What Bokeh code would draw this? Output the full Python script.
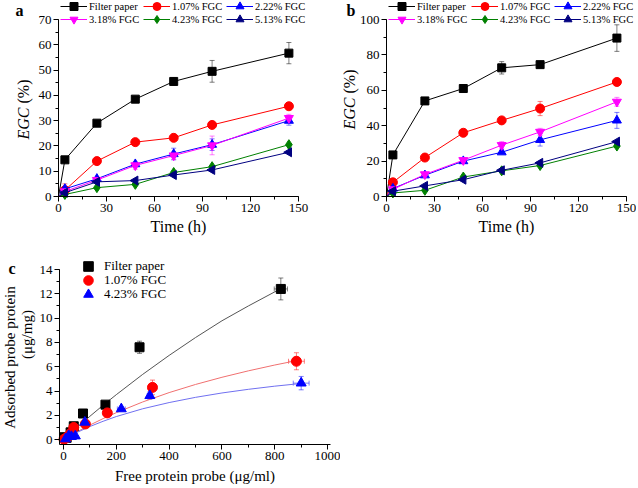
import numpy as np
from bokeh.plotting import figure
from bokeh.models import (ColumnDataSource, Whisker, TeeHead, Legend, LegendItem,
                          Label, SingleIntervalTicker, Range1d, CDSView, IndexFilter)
from bokeh.layouts import column, row
from bokeh.embed import file_html
from bokeh.resources import INLINE

FONT = "Liberation Serif"

# ---------------- data: panels a and b ----------------
time_h = [0, 4, 24, 48, 72, 96, 144]
names6 = ["Filter paper", "1.07% FGC", "2.22% FGC", "3.18% FGC", "4.23% FGC", "5.13% FGC"]

a_filter = [0.0, 14.5, 29.0, 38.5, 45.5, 49.5, 56.7]
a_107 = [0.0, 2.5, 14.0, 21.5, 23.2, 28.3, 35.7]
a_222 = [0.0, 3.0, 7.0, 12.8, 16.8, 20.5, 30.0]
a_318 = [0.0, 2.0, 6.5, 12.3, 16.2, 20.2, 31.0]
a_423 = [0.0, 0.8, 3.5, 4.8, 9.5, 11.8, 20.5]
a_513 = [0.0, 1.5, 5.8, 6.3, 8.5, 10.5, 17.5]

a_filter_err = [0, 0, 0, 0, 1.5, 4.3, 4.2]
a_107_err = [0, 2.5, 0, 0, 0, 1.0, 0]
a_222_err = [0, 0, 0, 0, 2.3, 2.3, 1.8]
a_318_err = [0, 0, 0, 1.5, 1.5, 3.7, 1.5]
a_423_err = [0, 0, 0, 0, 0, 0, 0]
a_513_err = [0, 0, 0, 0, 0, 0, 0]

b_filter = [0.0, 23.5, 54.0, 61.0, 72.7, 74.5, 89.5]
b_107 = [0.0, 8.0, 22.0, 36.0, 43.0, 49.7, 64.7]
b_222 = [0.0, 4.5, 12.0, 20.0, 25.0, 32.0, 43.0]
b_318 = [0.0, 4.0, 12.5, 20.5, 29.0, 36.5, 53.5]
b_423 = [0.0, 2.0, 3.5, 11.0, 14.5, 17.5, 28.5]
b_513 = [0.0, 3.0, 6.0, 9.5, 14.8, 19.0, 31.0]

b_filter_err = [0, 0, 0, 1.5, 3.5, 1.0, 7.5]
b_107_err = [0, 0, 0, 0, 0, 4.0, 1.0]
b_222_err = [0, 0, 0, 0, 0, 3.5, 4.5]
b_318_err = [0, 0, 0, 0, 2.0, 2.0, 2.5]
b_423_err = [0, 0, 0, 0, 0, 0, 0]
b_513_err = [0, 0, 0, 0, 0, 0, 0]

# ---------------- data: panel c ----------------
names3 = ["Filter paper", "1.07% FGC", "4.23% FGC"]
c_filter_x = [2, 12, 27, 39, 74, 159, 288, 823]
c_filter_y = [0.2, 0.15, 0.6, 1.1, 2.15, 2.88, 7.6, 12.4]
c_filter_xerr = [0, 0, 0, 0, 0, 8, 12, 25]
c_filter_yerr = [0, 0, 0, 0, 0, 0, 0.5, 0.9]

c_107_x = [2, 14, 27, 39, 83, 166, 337, 882]
c_107_y = [0.02, 0.2, 0.5, 1.0, 1.29, 2.2, 4.3, 6.45]
c_107_xerr = [0, 0, 0, 0, 0, 0, 10, 30]
c_107_yerr = [0, 0, 0, 0, 0, 0, 0.6, 0.7]

c_423_x = [8, 20, 30, 45, 81, 219, 327, 900]
c_423_y = [0.06, 0.33, 0.25, 0.3, 1.43, 2.53, 3.62, 4.65]
c_423_xerr = [0, 0, 0, 0, 0, 15, 10, 30]
c_423_yerr = [0, 0, 0, 0, 0, 0, 0.3, 0.55]

# fitted curves
fit_filter_x = [0, 25, 50, 100, 150, 200, 300, 400, 500, 600, 700, 825]
fit_filter_y = [0, 0.49, 0.98, 1.92, 2.83, 3.70, 5.37, 6.93, 8.40, 9.78, 11.0, 12.45]
fit_107_x = [0, 25, 50, 100, 150, 200, 300, 400, 500, 600, 700, 800, 880]
fit_107_y = [0, 0.32, 0.63, 1.20, 1.73, 2.22, 3.10, 3.87, 4.54, 5.13, 5.66, 6.14, 6.49]
fit_423_x = [0, 25, 50, 100, 150, 200, 300, 400, 500, 600, 700, 800, 900]
fit_423_y = [0, 0.30, 0.58, 1.08, 1.51, 1.90, 2.54, 3.05, 3.48, 3.84, 4.14, 4.40, 4.62]

colors6 = ["#000000", "#FF0000", "#0000FF", "#FF00FF", "#008000", "#000080"]
markers6 = ["square", "circle", "triangle", "inverted_triangle", "diamond", "triangle"]
angles6 = [0, 0, 0, 0, 0, np.pi / 2]
sizes6 = [8, 9, 9, 9, 10, 9]


def make_fig(width, height, x0px, x1px, xv0, xv1, ytop, ybot, yv0, yv1, xtick, ytick):
    """Frame covers the whole canvas; axes are pinned at the data origin."""
    sx = (x1px - x0px) / (xv1 - xv0)
    sy = (ybot - ytop) / (yv1 - yv0)
    xr = Range1d(xv0 - x0px / sx, xv1 + (width - x1px) / sx)
    yr = Range1d(yv0 - (height - ybot) / sy, yv1 + ytop / sy)
    p = figure(width=width, height=height, x_range=xr, y_range=yr,
               output_backend="svg", toolbar_location=None, title=None,
               min_border=0, min_border_left=0, min_border_right=0,
               min_border_top=0, min_border_bottom=0)
    p.xgrid.visible = False
    p.ygrid.visible = False
    p.outline_line_color = None
    p.background_fill_color = "white"
    p.border_fill_color = "white"
    p.xaxis.ticker = SingleIntervalTicker(interval=xtick, num_minor_ticks=2)
    p.yaxis.ticker = SingleIntervalTicker(interval=ytick, num_minor_ticks=2)
    p.xaxis.fixed_location = yv0
    p.yaxis.fixed_location = xv0
    p.xaxis.bounds = (xv0, xv1)
    p.yaxis.bounds = (yv0, yv1)
    for ax in (p.xaxis[0], p.yaxis[0]):
        ax.axis_line_color = "black"
        ax.axis_line_width = 1
        ax.major_tick_in = 0
        ax.major_tick_out = 5
        ax.minor_tick_in = 0
        ax.minor_tick_out = 3
        ax.major_tick_line_color = "black"
        ax.minor_tick_line_color = "black"
        ax.major_label_text_font = FONT
        ax.major_label_text_font_size = "13px"
        ax.major_label_text_color = "black"
        ax.major_label_standoff = 2
        ax.axis_label_standoff = 3
        ax.axis_label_text_font = FONT
        ax.axis_label_text_font_style = "normal"
        ax.axis_label_text_color = "black"
    return p


def add_whisker(p, base, val, err, color, dim):
    sel = [(b, v, e) for b, v, e in zip(base, val, err) if e > 0]
    if not sel:
        return
    src = ColumnDataSource(dict(b=[s[0] for s in sel],
                                lo=[s[1] - s[2] for s in sel],
                                hi=[s[1] + s[2] for s in sel]))
    w = Whisker(source=src, base="b", lower="lo", upper="hi", dimension=dim,
                line_color=color, line_alpha=0.5, line_width=1,
                upper_head=TeeHead(size=5, line_color=color, line_alpha=0.5),
                lower_head=TeeHead(size=5, line_color=color, line_alpha=0.5))
    p.add_layout(w)


def legend_row(p, items, x, y_center_from_top, height, glyph_w, glyph_h, label_w,
               standoff, spacing, font_size):
    leg = Legend(items=items, orientation="horizontal",
                 location=(x, height - y_center_from_top - glyph_h / 2),
                 glyph_width=glyph_w, glyph_height=glyph_h, label_height=glyph_h,
                 label_width=label_w, label_standoff=standoff, spacing=spacing,
                 padding=0, margin=0,
                 label_text_font=FONT, label_text_font_size=font_size,
                 label_text_color="black",
                 background_fill_alpha=0, border_line_alpha=0)
    p.add_layout(leg, "center")


def txt(p, x, y, text, **kw):
    p.add_layout(Label(x=x, y=y, x_units="screen", y_units="screen", text=text,
                       text_font=FONT, text_color="black", **kw))


H1 = 240


def time_panel(ys, errs, ymax, ytick, width, x0px, legend_x, letter, letter_x, ylab_x, ylab_mid):
    p = make_fig(width, H1, x0px, x0px + 240, 0, 150, 19, 196, 0, ymax, 30, ytick)
    p.xaxis.axis_label = "Time (h)"
    p.xaxis.axis_label_text_font_size = "16px"
    items = []
    for i in range(6):
        add_whisker(p, time_h, ys[i], errs[i], colors6[i], "height")
    for i in range(6):
        src = ColumnDataSource(dict(t=time_h, v=ys[i]))
        lr = p.line("t", "v", source=src, line_color=colors6[i], line_width=1)
        view = CDSView(filter=IndexFilter(list(range(1, len(time_h)))))
        sr = p.scatter("t", "v", source=src, view=view, marker=markers6[i], size=sizes6[i],
                       angle=angles6[i], fill_color=colors6[i], line_color=colors6[i])
        items.append(LegendItem(label=names6[i], renderers=[lr, sr]))
    legend_row(p, items[:3], legend_x, 6, H1, 27, 20, 51, 2, 3, "10.5px")
    legend_row(p, items[3:], legend_x, 19, H1, 27, 20, 51, 2, 3, "10.5px")
    txt(p, letter_x, H1 - 1, letter, text_font_style="bold", text_font_size="16px",
        text_baseline="top")
    txt(p, ylab_x, H1 - ylab_mid - 30, "EGC", angle=np.pi / 2, text_align="left",
        text_baseline="middle", text_font_style="italic", text_font_size="16px")
    txt(p, ylab_x, H1 - ylab_mid + 30, "(%)", angle=np.pi / 2, text_align="right",
        text_baseline="middle", text_font_style="normal", text_font_size="16px")
    return p


pa = time_panel([a_filter, a_107, a_222, a_318, a_423, a_513],
                [a_filter_err, a_107_err, a_222_err, a_318_err, a_423_err, a_513_err],
                70, 10, 318, 58, 60, "a", 15, 23, 109)
pb = time_panel([b_filter, b_107, b_222, b_318, b_423, b_513],
                [b_filter_err, b_107_err, b_222_err, b_318_err, b_423_err, b_513_err],
                100, 20, 318, 68, 70, "b", 28, 31, 99)

# ---------------- panel c ----------------
H2 = 246
pc = make_fig(340, H2, 59, 330, -15, 1011, 29, 204, -0.4, 14, 200, 2)
pc.xaxis.axis_label = "Free protein probe (\u03bcg/ml)"
pc.xaxis.axis_label_text_font_size = "15px"
pc.xaxis.axis_label_standoff = 5

c_sets = [(c_filter_x, c_filter_y, c_filter_xerr, c_filter_yerr, fit_filter_x, fit_filter_y),
          (c_107_x, c_107_y, c_107_xerr, c_107_yerr, fit_107_x, fit_107_y),
          (c_423_x, c_423_y, c_423_xerr, c_423_yerr, fit_423_x, fit_423_y)]
c_colors = ["#000000", "#FF0000", "#0000FF"]
c_curve_colors = ["#555555", "#F07070", "#7070F0"]
c_markers = ["square", "circle", "triangle"]
c_sizes = [9, 10, 10]
for i, (xs, ys, xe, ye, fx, fy) in enumerate(c_sets):
    pc.line(fx, fy, line_color=c_curve_colors[i], line_width=1)
for i, (xs, ys, xe, ye, fx, fy) in enumerate(c_sets):
    add_whisker(pc, xs, ys, ye, c_colors[i], "height")
    add_whisker(pc, ys, xs, xe, c_colors[i], "width")
for i, (xs, ys, xe, ye, fx, fy) in enumerate(c_sets):
    sr = pc.scatter(xs, ys, marker=c_markers[i], size=c_sizes[i],
                    fill_color=c_colors[i], line_color=c_colors[i])
    legend_row(pc, [LegendItem(label=names3[i], renderers=[sr])], 76, 26 + 14 * i, H2,
               24, 24, 80, 4, 0, "13px")

txt(pc, 8, H2 - 19, "c", text_font_style="bold", text_font_size="16px", text_baseline="top")
txt(pc, 9, H2 - 117, "Adsorbed probe protein", angle=np.pi / 2, text_align="center",
    text_baseline="middle", text_font_size="15px")
txt(pc, 26, H2 - 94, "(\u03bcg/mg)", angle=np.pi / 2, text_align="center",
    text_baseline="middle", text_font_size="15px")

layout = column(row(pa, pb), pc)
open("out.html", "w").write(file_html(layout, INLINE))
